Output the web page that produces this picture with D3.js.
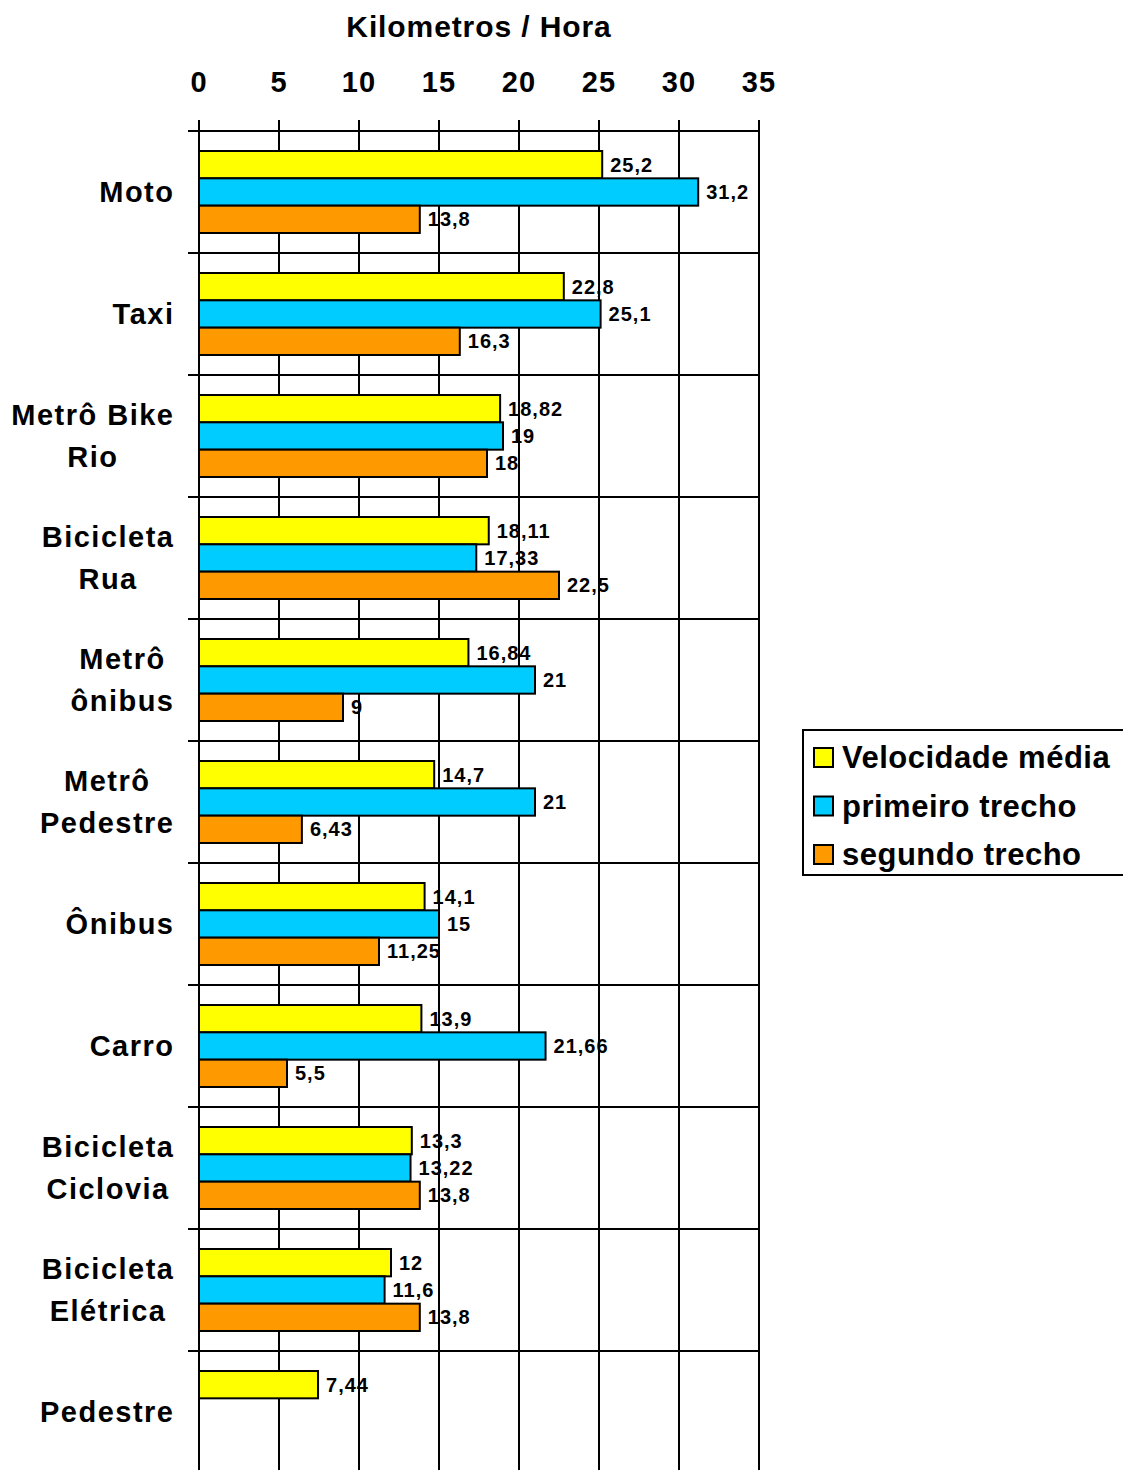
<!DOCTYPE html>
<html>
<head>
<meta charset="utf-8">
<script src="https://cdn.jsdelivr.net/npm/d3@7"></script>
<style>
  body { margin: 0; background: #fff; }
  svg { display: block; font-family: "Liberation Sans", Arial, sans-serif; font-weight: bold; }
</style>
</head>
<body>
<div id="chart"></div>
<script>
const categories = ["Moto", "Taxi", "Metrô Bike|Rio", "Bicicleta|Rua", "Metrô|ônibus", "Metrô|Pedestre",
  "Ônibus", "Carro", "Bicicleta|Ciclovia", "Bicicleta|Elétrica", "Pedestre"]
const seriesNames = ["Velocidade média", "primeiro trecho", "segundo trecho"]
const velocidade = [25.2, 22.8, 18.82, 18.11, 16.84, 14.7, 14.1, 13.9, 13.3, 12, 7.44]
const primeiro = [31.2, 25.1, 19, 17.33, 21, 21, 15, 21.66, 13.22, 11.6, null]
const segundo = [13.8, 16.3, 18, 22.5, 9, 6.43, 11.25, 5.5, 13.8, 13.8, null]
const xTicks = [0, 5, 10, 15, 20, 25, 30, 35]
const colors = ["#ffff00", "#00ccff", "#ff9900"]

const series = [velocidade, primeiro, segundo]
const rows = []
categories.forEach((c, i) => {
  series.forEach((s, k) => {
    if (s[i] != null) rows.push({ cat: c, key: seriesNames[k], value: s[i], k })
  })
})

const width = 1123, height = 1470
const svg = d3.select('#chart').append('svg')
  .attr('width', width).attr('height', height)

const x = d3.scaleLinear().domain([0, 35]).range([199, 759])
const y = d3.scaleBand().domain(categories).range([131, 131 + 122 * categories.length])
const inner = d3.scaleBand().domain(seriesNames).range([20, 102])

// title
svg.append('text')
  .attr('x', (x(0) + x(35)) / 2).attr('y', 37)
  .attr('text-anchor', 'middle').attr('font-size', 30)
  .attr('letter-spacing', 0.9)
  .text('Kilometros / Hora')

// top axis labels
svg.append('g').selectAll('text').data(xTicks).join('text')
  .attr('x', d => x(d)).attr('y', 92)
  .attr('text-anchor', 'middle').attr('font-size', 29)
  .attr('letter-spacing', 1)
  .text(d => d)

// vertical grid
svg.append('g').selectAll('line').data(xTicks).join('line')
  .attr('x1', d => x(d)).attr('x2', d => x(d))
  .attr('y1', 120).attr('y2', height)
  .attr('stroke', '#000').attr('stroke-width', 2)

// horizontal category separators
const bounds = categories.map(c => y(c))
svg.append('g').selectAll('line').data(bounds).join('line')
  .attr('x1', 188).attr('x2', x(35))
  .attr('y1', d => d).attr('y2', d => d)
  .attr('stroke', '#000').attr('stroke-width', 2)

// bars
svg.append('g').selectAll('rect').data(rows).join('rect')
  .attr('x', x(0))
  .attr('y', d => y(d.cat) + inner(d.key))
  .attr('width', d => x(d.value) - x(0))
  .attr('height', inner.bandwidth())
  .attr('fill', d => colors[d.k])
  .attr('stroke', '#000').attr('stroke-width', 2)

// value labels
svg.append('g').selectAll('text').data(rows).join('text')
  .attr('x', d => x(d.value) + 8)
  .attr('y', d => y(d.cat) + inner(d.key) + inner.bandwidth() / 2)
  .attr('dy', '0.35em').attr('font-size', 20)
  .attr('letter-spacing', 1)
  .text(d => String(d.value).replace('.', ','))

// category labels
categories.forEach(c => {
  const lines = c.split('|')
  const cy = y(c) + y.bandwidth() / 2
  const g = svg.append('g')
  const texts = lines.map((l, i) => g.append('text')
    .attr('font-size', 29)
    .attr('letter-spacing', 1.5)
    .attr('y', cy + (i - (lines.length - 1) / 2) * 42)
    .attr('dy', '0.35em')
    .attr('text-anchor', 'middle')
    .text(l))
  const w = d3.max(texts, t => t.node().getComputedTextLength())
  texts.forEach(t => t.attr('x', 174.5 - w / 2))
})

// legend
const legend = svg.append('g')
legend.append('rect')
  .attr('x', 803).attr('y', 730).attr('width', 330).attr('height', 145)
  .attr('fill', '#fff').attr('stroke', '#000').attr('stroke-width', 2)
seriesNames.forEach((n, i) => {
  const base = 768 + i * 48.5
  legend.append('rect')
    .attr('x', 814).attr('y', base - 20).attr('width', 19).attr('height', 19)
    .attr('fill', colors[i]).attr('stroke', '#000').attr('stroke-width', 2)
  legend.append('text')
    .attr('x', 842).attr('y', base)
    .attr('font-size', 31).attr('letter-spacing', 0.5).text(n)
})
</script>
</body>
</html>
